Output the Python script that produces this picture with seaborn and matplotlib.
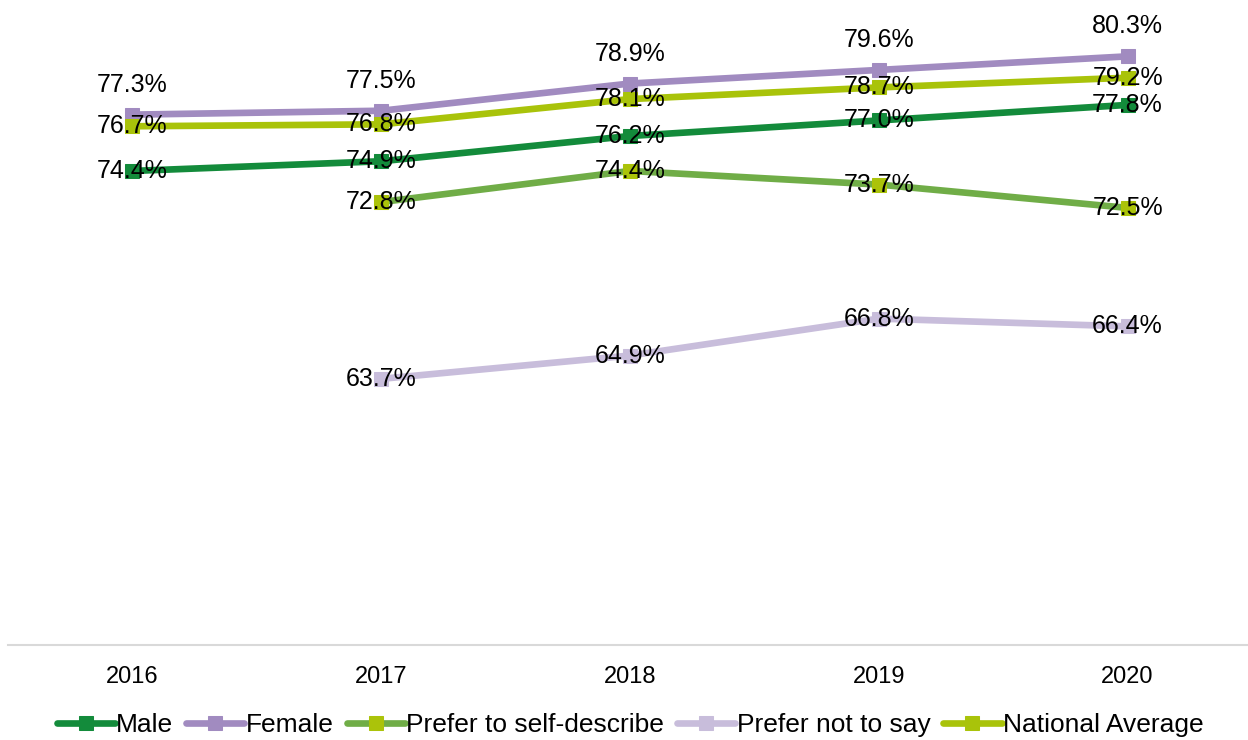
import numpy as np
import pandas as pd
import matplotlib
matplotlib.use('Agg')
import matplotlib.pyplot as plt
import seaborn as sns

# dados
anos = ['2016', '2017', '2018', '2019', '2020']
male = [74.4, 74.9, 76.2, 77.0, 77.8]
female = [77.3, 77.5, 78.9, 79.6, 80.3]
self_describe = [np.nan, 72.8, 74.4, 73.7, 72.5]
not_say = [np.nan, 63.7, 64.9, 66.8, 66.4]
national = [76.7, 76.8, 78.1, 78.7, 79.2]

series = [
    ('Male', male, '#138B3B', '#138B3B'),
    ('Female', female, '#A18BC0', '#A18BC0'),
    ('Prefer to self-describe', self_describe, '#70AD47', '#ABC30A'),
    ('Prefer not to say', not_say, '#C8BDDB', '#C8BDDB'),
    ('National Average', national, '#A9C30A', '#A9C30A'),
]

sns.set_theme(style='white')
plt.rcParams['font.family'] = ['Liberation Sans', 'DejaVu Sans']

fig = plt.figure(figsize=(12.48, 7.4), dpi=100)
ax = fig.add_axes([8 / 1248, 1 - 645 / 740, 1244 / 1248, 645 / 740])

x = np.arange(len(anos))
for nome, vals, cor_linha, cor_marc in series:
    df = pd.DataFrame({'x': x, 'y': vals}).dropna()
    sns.lineplot(data=df, x='x', y='y', ax=ax, color=cor_linha, linewidth=4.8,
                 marker='s', markersize=10, markerfacecolor=cor_marc,
                 markeredgecolor=cor_marc, label=nome)
    for xi, yi in zip(df['x'], df['y']):
        dy = 30 if nome == 'Female' else 0
        ax.annotate(f'{yi:.1f}%', (xi, yi), xytext=(0, dy), textcoords='offset pixels',
                    ha='center', va='center', fontsize=18, color='black')

ax.set_xlim(-0.5, 4.5)
ax.set_ylim(50, 83.2)
ax.set_xticks(x)
ax.set_xticklabels(anos, fontsize=17, color='black')
ax.tick_params(axis='x', length=0, pad=15)
ax.set_yticks([])
ax.set_xlabel('')
ax.set_ylabel('')
for s in ['top', 'right', 'left']:
    ax.spines[s].set_visible(False)
ax.spines['bottom'].set_color('#D9D9D9')
ax.spines['bottom'].set_linewidth(1.5)

leg = ax.legend(loc='lower center', bbox_to_anchor=(0.5, -0.18), ncol=5, frameon=False,
                fontsize=19, handlelength=2.2, handletextpad=0.05, columnspacing=0.5)
for t in leg.get_texts():
    t.set_color('black')

plt.savefig('out.png', dpi=100)
